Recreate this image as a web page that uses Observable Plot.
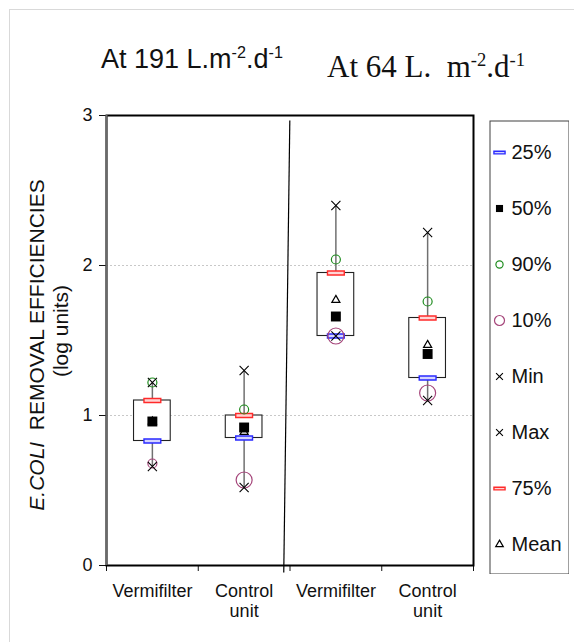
<!DOCTYPE html>
<html>
<head>
<meta charset="utf-8">
<script src="https://cdn.jsdelivr.net/npm/d3@7"></script>
<script src="https://cdn.jsdelivr.net/npm/@observablehq/plot@0.6"></script>
<style>
  html, body { margin: 0; padding: 0; background: #fff; overflow: hidden; }
  #fig { position: relative; width: 574px; height: 642px; overflow: hidden;
         font-family: Arial, "Liberation Sans", sans-serif; color: #111; }
  #edge { position: absolute; left: 9px; top: 9px; width: 800px; height: 800px;
          border-left: 1px solid #d9d9d9; border-top: 1px solid #d9d9d9; }
  .abs { position: absolute; white-space: pre; line-height: 1; }
  sup { font-size: 0.6em; vertical-align: 0.6em; line-height: 0; }
  #t1 { left: 101px; top: 46px; font-size: 27px; }
  #t2 { left: 327px; top: 51px; font-size: 31px; font-family: "Liberation Serif", "Times New Roman", serif; }
  .ytitle { font-size: 21px; transform: translate(-50%, -50%) rotate(-90deg); }
  #y1 { left: 35.5px; top: 345px; }
  #y2 { left: 60px; top: 331px; }
  #chart, #legend { position: absolute; }
  #chart { left: 0; top: 0; }
  #legend { left: 489px; top: 120px; }
</style>
</head>
<body>
<div id="fig">
  <div id="edge"></div>
  <div class="abs" id="t1">At 191 L.m<sup>-2</sup>.d<sup>-1</sup></div>
  <div class="abs" id="t2">At 64 L.  m<sup>-2</sup>.d<sup>-1</sup></div>
  <div class="abs ytitle" id="y1"><i>E.COLI</i>  REMOVAL EFFICIENCIES</div>
  <div class="abs ytitle" id="y2">(log units)</div>
  <div id="chart"></div>
  <div id="legend"></div>
</div>
<script>
// Treatment units, left pair at 191 L.m-2.d-1, right pair at 64 L.m-2.d-1
const categories = ["Vermifilter", "Control\nunit", "Vermifilter", "Control\nunit"];
const loadingRates = ["191", "191", "64", "64"];

// E. coli removal (log units) per unit
const minimum = [0.66, 0.52, 1.53, 1.10];
const pct10   = [0.68, 0.57, 1.53, 1.15];
const pct25   = [0.83, 0.85, 1.53, 1.25];
const median  = [0.96, 0.92, 1.66, 1.41];
const mean    = [0.96, 0.89, 1.77, 1.47];
const pct75   = [1.10, 1.00, 1.95, 1.65];
const pct90   = [1.22, 1.04, 2.04, 1.76];
const maximum = [1.22, 1.30, 2.40, 2.22];

const yTicks = [0, 1, 2, 3];
const legendLabels = ["25%", "50%", "90%", "10%", "Min", "Max", "75%", "Mean"];
const legendKeys   = ["p25", "p50", "p90", "p10", "min", "max", "p75", "mean"];

// hand-drawn separator between the two loading rates (data units)
const separator = [{x1: 1.998, y1: 2.967, x2: 1.932, y2: -0.047}];

const rows = categories.map((label, i) => ({
  i, label, rate: loadingRates[i],
  min: minimum[i], p10: pct10[i], p25: pct25[i], p50: median[i],
  mean: mean[i], p75: pct75[i], p90: pct90[i], max: maximum[i]
}));

// flat outlined dash marker used for the quartiles
const dash = {
  draw(ctx, size) {
    const r = Math.sqrt(size / Math.PI);
    const w = r * 2.1, h = r * 0.5;
    ctx.rect(-w / 2, -h / 2, w, h);
  }
};

const markerStyle = {
  p25:  {symbol: dash, stroke: "#2a2aff", fill: "#d4d4ff", strokeWidth: 1.4, r: 8, lr: 5.3},
  p75:  {symbol: dash, stroke: "#ff2a2a", fill: "#ffd4d4", strokeWidth: 1.4, r: 8, lr: 5.3},
  p50:  {symbol: "square", fill: "#000", stroke: "none", r: 5.6, lr: 4},
  p90:  {symbol: "circle", fill: "none", stroke: "#1e8c1e", strokeWidth: 1.2, r: 4.5, lr: 3.6},
  p10:  {symbol: "circle", fill: "none", stroke: "#a5457a", strokeWidth: 1.2, r: (d) => d.i === 0 ? 4.5 : 8, lr: 5},
  min:  {symbol: "times", fill: "none", stroke: "#000", strokeWidth: 1.1, r: 4.2, lr: 3.2},
  max:  {symbol: "times", fill: "none", stroke: "#000", strokeWidth: 1.1, r: 4.2, lr: 3.2},
  mean: {symbol: "triangle", fill: "none", stroke: "#000", strokeWidth: 1.2, r: 3, lr: 2.8}
};

const center = (d) => d.i + 0.5;
const statDot = (key) => {
  const {lr, ...style} = markerStyle[key];
  return Plot.dot(rows, {x: center, y: key, ...style});
};

const chart = Plot.plot({
  width: 574,
  height: 642,
  marginLeft: 106,
  marginRight: 101,
  marginTop: 115,
  marginBottom: 77,
  style: {fontFamily: "Arial, 'Liberation Sans', sans-serif", fontSize: "18px", color: "#111", background: "transparent"},
  x: {type: "linear", domain: [0, 4]},
  y: {domain: [0, 3]},
  r: {type: "identity"},
  marks: [
    Plot.gridY([1, 2], {stroke: "#c8c8c8", strokeOpacity: 1, strokeDasharray: "2,2"}),
    Plot.axisY({ticks: yTicks, tickSize: 7, tickPadding: 7, fontSize: 18, tickFormat: d3.format("d"), label: null}),
    Plot.axisX({ticks: [0, 1, 2, 3, 4], tickSize: 6, tickFormat: () => "", label: null}),
    Plot.axisX({ticks: rows.map(center), tickSize: 0, tickPadding: 17, fontSize: 18, lineHeight: 1.11,
                tickFormat: (v) => categories[Math.floor(v)], label: null}),
    // whiskers from minimum to maximum
    Plot.ruleX(rows, {x: center, y1: "min", y2: "max", stroke: "#707070", strokeWidth: 1.5}),
    // interquartile boxes
    Plot.rect(rows, {x1: (d) => d.i + 0.3, x2: (d) => d.i + 0.7, y1: "p25", y2: "p75",
                     fill: "#fff", stroke: "#222", strokeWidth: 1.1}),
    statDot("mean"),
    statDot("p50"),
    statDot("p25"),
    statDot("p75"),
    statDot("p90"),
    statDot("p10"),
    statDot("min"),
    statDot("max"),
    Plot.frame({stroke: "#000", strokeWidth: 2}),
    Plot.ruleX([0], {stroke: "#6a6a6a", strokeWidth: 2}),
    Plot.link(separator, {x1: "x1", y1: "y1", x2: "x2", y2: "y2", stroke: "#000", strokeWidth: 1.2})
  ]
});
document.getElementById("chart").append(chart);

// legend: one marker and label per statistic
const legendRows = legendLabels.map((label, k) => ({label, key: legendKeys[k]}));
const legendMarks = legendRows.map(({label, key}) => {
  const {lr, r, ...style} = markerStyle[key];
  return Plot.dot([label], {y: (d) => d, frameAnchor: "left", dx: 10, r: lr, ...style});
});

const legend = Plot.plot({
  width: 80,
  height: 454,
  margin: 0,
  style: {fontFamily: "Arial, 'Liberation Sans', sans-serif", fontSize: "20px", color: "#111", background: "#fff"},
  y: {type: "point", domain: legendLabels, padding: 0, range: [30, 425.5], axis: null},
  marks: [
    Plot.frame({stroke: "#404040", strokeWidth: 1, inset: 0.5}),
    ...legendMarks,
    Plot.text(legendRows, {y: "label", text: "label", frameAnchor: "left", dx: 22, textAnchor: "start", fontSize: 20, fill: "#111"})
  ]
});
document.getElementById("legend").append(legend);
</script>
</body>
</html>
